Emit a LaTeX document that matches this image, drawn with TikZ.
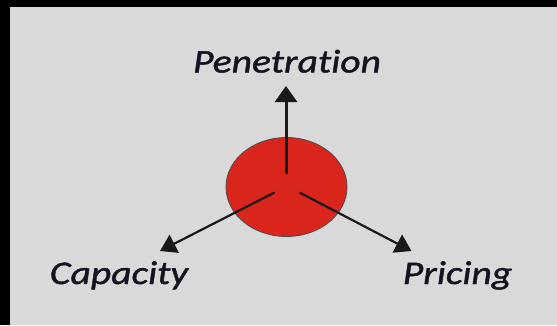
\documentclass[tikz,border=0pt]{standalone}
\usepackage{fontspec}
\newfontfamily\lblfont[FakeStretch=1.2,FakeBold=1.3,Ligatures={NoCommon},RawFeature={-liga}]{Carlito}
\usetikzlibrary{shapes.geometric,arrows.meta}
\definecolor{bggray}{HTML}{D9D9D9}
\definecolor{discred}{HTML}{DA251D}
\definecolor{txt}{HTML}{141420}
\tikzset{
  lbl/.style={anchor=base, inner sep=0pt, text=txt, font=\lblfont\itshape\fontsize{33}{33}\selectfont},
  arr/.style={line width=2.2pt, -{Triangle[width=20pt,length=16pt]}, black!90},
  vertarr/.style={line width=3pt, -{Triangle[width=22pt,length=16pt]}, black!90},
  disc/.style={ellipse, draw=black!70, line width=0.8pt, fill=discred, minimum width=121pt, minimum height=99pt, inner sep=0pt}
}
\begin{document}
\begin{tikzpicture}[x=1pt,y=-1pt]
\fill[black] (0,0) rectangle (557,325);
\fill[bggray] (10,7) rectangle (557,325);
\useasboundingbox (0,0) rectangle (557,325);
\node[disc] (c) at (286.5,187) {};
\node[lbl] (pen) at (287,72.5) {Penetration};
\node[lbl] (cap) at (119,284) {Capacity};
\node[lbl] (pri) at (457.5,284) {Pricing};
\coordinate (s1) at (286,174);
\coordinate (t1) at (286,86);
\coordinate (s2) at (274.5,192.5);
\coordinate (t2) at (160,251);
\coordinate (s3) at (299.5,192.5);
\coordinate (t3) at (411.5,251);
\draw[vertarr] (s1) -- (t1);
\draw[arr] (s2) -- (t2);
\draw[arr] (s3) -- (t3);
\end{tikzpicture}
\end{document}
